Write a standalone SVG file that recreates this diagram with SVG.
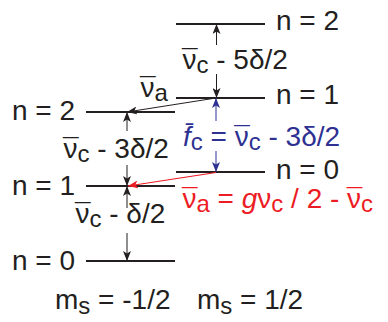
<svg xmlns="http://www.w3.org/2000/svg" width="388" height="322" viewBox="0 0 388 322">
<defs>
<style>
text{font-family:"Liberation Sans",Arial,sans-serif;font-size:28px;fill:#231F20}
.lvl{stroke:#231F20;stroke-width:2;fill:none}
.ar{stroke:#231F20;stroke-width:1;fill:none;marker-end:url(#hk)}
.arb{stroke:#2E3192;stroke-width:1;fill:none;marker-end:url(#hb)}
.arr{stroke:#ED1C24;stroke-width:1.2;fill:none;marker-end:url(#hr)}
.sub{font-size:24px}
.blue{fill:#2E3192}
.red{fill:#ED1C24}
</style>
<marker id="hk" viewBox="0 0 10 8" refX="10" refY="4" markerWidth="10" markerHeight="8" markerUnits="userSpaceOnUse" orient="auto"><path d="M0,0 L10,4 L0,8 L2.5,4 z" fill="#231F20"/></marker>
<marker id="hb" viewBox="0 0 10 8" refX="10" refY="4" markerWidth="10" markerHeight="8" markerUnits="userSpaceOnUse" orient="auto"><path d="M0,0 L10,4 L0,8 L2.5,4 z" fill="#2E3192"/></marker>
<marker id="hr" viewBox="0 0 10 8" refX="10" refY="4" markerWidth="10" markerHeight="8" markerUnits="userSpaceOnUse" orient="auto"><path d="M0,0 L10,4 L0,8 L2.5,4 z" fill="#ED1C24"/></marker>
</defs>

<g id="left-n2"><line class="lvl" x1="86" y1="112" x2="175" y2="112"/><text x="12" y="120">n = 2</text></g>
<g id="left-n1"><line class="lvl" x1="86" y1="186" x2="175" y2="186"/><text x="12" y="195">n = 1</text></g>
<g id="left-n0"><line class="lvl" x1="86" y1="261" x2="175" y2="261"/><text x="12" y="270">n = 0</text></g>
<g id="right-n2"><line class="lvl" x1="176" y1="24" x2="265" y2="24"/><text x="276" y="30">n = 2</text></g>
<g id="right-n1"><line class="lvl" x1="176" y1="98" x2="265" y2="98"/><text x="276" y="104">n = 1</text></g>
<g id="right-n0"><line class="lvl" x1="176" y1="172" x2="265" y2="172"/><text x="276" y="179">n = 0</text></g>

<g id="connectors">
<line class="ar" x1="216.5" y1="45" x2="216.5" y2="24"/>
<line class="ar" x1="216.5" y1="74" x2="216.5" y2="98"/>
<line class="ar" x1="127" y1="131" x2="127" y2="112"/>
<line class="ar" x1="127" y1="165" x2="127" y2="186"/>
<line class="ar" x1="127" y1="208" x2="127" y2="186"/>
<line class="ar" x1="127" y1="233" x2="127" y2="261"/>
<line class="arb" x1="216" y1="121" x2="216" y2="98"/>
<line class="arb" x1="216" y1="151" x2="216" y2="172"/>
<line class="ar" x1="216" y1="98" x2="127" y2="112"/>
<line class="arr" x1="216" y1="172.5" x2="128" y2="186"/>
</g>

<g id="labels">
<text x="182" y="69">ν<tspan dx="-14.5">¯</tspan><tspan class="sub" dx="-1" dy="4">c</tspan><tspan dy="-4"> - 5δ/2</tspan></text>
<text x="140" y="97">ν<tspan dx="-14.5">¯</tspan><tspan class="sub" dx="-1" dy="4">a</tspan></text>
<text x="63" y="158">ν<tspan dx="-14.5">¯</tspan><tspan class="sub" dx="-1" dy="4">c</tspan><tspan dy="-4"> - 3δ/2</tspan></text>
<text x="75" y="223">ν<tspan dx="-14.5">¯</tspan><tspan class="sub" dx="-1" dy="4">c</tspan><tspan dy="-4"> - δ/2</tspan></text>
<text class="blue" x="183" y="146"><tspan font-style="italic">f̄</tspan><tspan class="sub" dy="4">c</tspan><tspan dy="-4"> = ν</tspan><tspan dx="-14.5">¯</tspan><tspan class="sub" dx="-1" dy="4">c</tspan><tspan dy="-4"> - 3δ/2</tspan></text>
<text class="red" x="182" y="208">ν<tspan dx="-14.5">¯</tspan><tspan class="sub" dx="-1" dy="4">a</tspan><tspan dy="-4"> = </tspan><tspan font-style="italic">g</tspan>ν<tspan class="sub" dy="4">c</tspan><tspan dy="-4"> / 2 - ν</tspan><tspan dx="-14.5">¯</tspan><tspan class="sub" dx="-1" dy="4">c</tspan></text>
<text x="55" y="309">m<tspan class="sub" dy="5">s</tspan><tspan dy="-5"> = -1/2</tspan></text>
<text x="197" y="309">m<tspan class="sub" dy="5">s</tspan><tspan dy="-5"> = 1/2</tspan></text>
</g>
</svg>
